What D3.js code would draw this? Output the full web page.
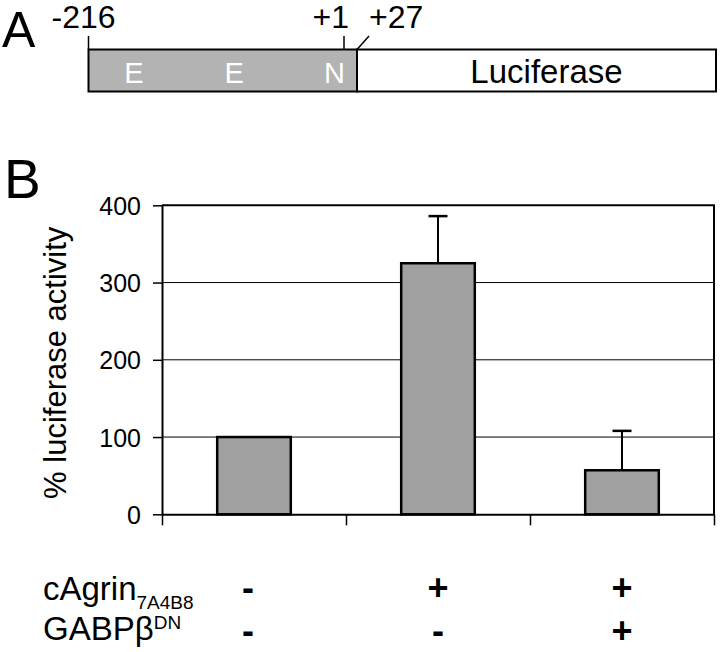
<!DOCTYPE html>
<html>
<head>
<meta charset="utf-8">
<script src="https://cdn.jsdelivr.net/npm/d3@7"></script>
<style>
  body { margin: 0; background: #fff; }
  text { font-family: "Liberation Sans", Arial, sans-serif; fill: #000; }
</style>
</head>
<body>
<svg id="chart"></svg>
<script>
// panel A: promoter construct
const constructSites = [-216, 1, 27];
const siteLabels = ["-216", "+1", "+27"];
const elementLabels = ["E", "E", "N"];
const reporterLabel = "Luciferase";

// panel B: luciferase assay
const conditions = ["control", "agrin", "agrin+dn"];
const activity = [100, 325, 57];
const errorUp = [0, 61, 51];
const yTicks = [0, 100, 200, 300, 400];
const agrinSigns = ["-", "+", "+"];
const gabpSigns = ["-", "-", "+"];

const width = 720, height = 652;
const svg = d3.select("#chart").attr("width", width).attr("height", height);

// ---------- panel A ----------
const boxTop = 49.5, boxBottom = 91.5, boxRight = 716;
const siteX = d3.scaleLinear().domain(constructSites).range([88.5, 344, 357]);

let a = svg.append("g");

a.append("text")
    .attr("x", 2).attr("y", 47)
    .style("font-size", "50px")
    .text("A");

// promoter (grey) and reporter (white)
a.append("rect")
    .attr("x", siteX(-216)).attr("y", boxTop)
    .attr("width", siteX(27) - siteX(-216)).attr("height", boxBottom - boxTop)
    .attr("fill", "#b3b3b3").attr("stroke", "#000").attr("stroke-width", 2);
a.append("rect")
    .attr("x", siteX(27)).attr("y", boxTop)
    .attr("width", boxRight - siteX(27)).attr("height", boxBottom - boxTop)
    .attr("fill", "#fff").attr("stroke", "#000").attr("stroke-width", 2);

// site markers
a.append("line")
    .attr("x1", siteX(-216)).attr("x2", siteX(-216))
    .attr("y1", 36).attr("y2", boxTop)
    .attr("stroke", "#000").attr("stroke-width", 1.5);
a.append("line")
    .attr("x1", siteX(1)).attr("x2", siteX(1))
    .attr("y1", 36).attr("y2", boxTop)
    .attr("stroke", "#000").attr("stroke-width", 1.5);
a.append("line")
    .attr("x1", siteX(27)).attr("x2", siteX(27) + 12)
    .attr("y1", boxTop).attr("y2", 36)
    .attr("stroke", "#000").attr("stroke-width", 1.5);

a.append("text").attr("x", siteX(-216) - 37).attr("y", 28)
    .style("font-size", "32px").text(siteLabels[0]);
a.append("text").attr("x", siteX(1) + 5).attr("y", 28)
    .attr("text-anchor", "end")
    .style("font-size", "32px").text(siteLabels[1]);
a.append("text").attr("x", siteX(27) + 12).attr("y", 28)
    .style("font-size", "32px").text(siteLabels[2]);

// E / E / N boxes inside the promoter
let elemX = d3.scalePoint().domain(d3.range(elementLabels.length)).range([134, 334.5]);
a.selectAll(".elem")
    .data(elementLabels)
    .enter().append("text")
    .attr("class", "elem")
    .attr("x", (d, i) => elemX(i))
    .attr("y", 83)
    .attr("text-anchor", "middle")
    .style("font-size", "29px")
    .style("fill", "#fff")
    .text(d => d);

a.append("text")
    .attr("x", (siteX(27) + boxRight) / 2 + 10).attr("y", 83)
    .attr("text-anchor", "middle")
    .style("font-size", "33px")
    .text(reporterLabel);

// ---------- panel B ----------
const plotLeft = 162, plotRight = 714, plotTop = 205.3, plotBottom = 514.3;

let x = d3.scaleBand()
    .domain(conditions)
    .range([plotLeft, plotRight])
    .paddingInner(0.6)
    .paddingOuter(0.3);

let y = d3.scaleLinear()
    .domain([0, 400])
    .range([plotBottom, plotTop]);

let b = svg.append("g");

b.append("text")
    .attr("x", 4).attr("y", 198)
    .style("font-size", "55px")
    .text("B");

// gridlines
b.selectAll(".grid")
    .data(yTicks.filter(t => t > 0 && t < 400))
    .enter().append("line")
    .attr("class", "grid")
    .attr("x1", plotLeft).attr("x2", plotRight)
    .attr("y1", d => y(d)).attr("y2", d => y(d))
    .attr("stroke", "#000").attr("stroke-width", 1);

// frame (top + right)
b.append("path")
    .attr("d", `M${plotLeft},${y(400)}H${plotRight}V${y(0)}`)
    .attr("fill", "none").attr("stroke", "#000").attr("stroke-width", 2);

// bars
b.selectAll(".bar")
    .data(activity)
    .enter().append("rect")
    .attr("class", "bar")
    .attr("x", (d, i) => x(conditions[i]))
    .attr("width", x.bandwidth())
    .attr("y", d => y(d))
    .attr("height", d => y(0) - y(d))
    .attr("fill", "#a0a0a0")
    .attr("stroke", "#000")
    .attr("stroke-width", 2.5);

// error bars (upper only)
let capW = 19;
activity.forEach((v, i) => {
    if (!errorUp[i]) return;
    let cx = x(conditions[i]) + x.bandwidth() / 2;
    b.append("line")
        .attr("x1", cx).attr("x2", cx)
        .attr("y1", y(v)).attr("y2", y(v + errorUp[i]))
        .attr("stroke", "#000").attr("stroke-width", 2);
    b.append("line")
        .attr("x1", cx - capW / 2).attr("x2", cx + capW / 2)
        .attr("y1", y(v + errorUp[i])).attr("y2", y(v + errorUp[i]))
        .attr("stroke", "#000").attr("stroke-width", 2.5);
});

// y axis
let yAxis = b.append("g")
    .attr("transform", `translate(${plotLeft},0)`)
    .call(d3.axisLeft(y).tickValues(yTicks).tickSize(9).tickSizeOuter(0).tickPadding(12));
yAxis.select(".domain").attr("stroke-width", 2);
yAxis.selectAll(".tick line").attr("stroke-width", 1.5);
yAxis.selectAll(".tick text")
    .style("font-size", "25px")
    .style("font-family", "'Liberation Sans', Arial, sans-serif")
    .attr("dy", "0.36em");

// x axis: ticks between categories
let edge = d3.scaleLinear().domain([0, conditions.length]).range([plotLeft, plotRight]);
let xAxis = b.append("g")
    .attr("transform", `translate(0,${plotBottom})`)
    .call(d3.axisBottom(edge).tickValues(d3.range(conditions.length + 1))
        .tickSize(11).tickSizeOuter(0).tickFormat(""));
xAxis.select(".domain").attr("stroke-width", 2);
xAxis.selectAll(".tick line").attr("stroke-width", 1.5);

// y title
b.append("text")
    .attr("transform", `translate(66,${(plotTop + plotBottom) / 2 + 3}) rotate(-90)`)
    .attr("text-anchor", "middle")
    .style("font-size", "31px")
    .text("% luciferase activity");

// treatment table
let row1 = b.append("text").attr("x", 43).attr("y", 600).style("font-size", "33px");
row1.append("tspan").text("cAgrin");
row1.append("tspan").attr("dy", 9).style("font-size", "19px").text("7A4B8");

let row2 = b.append("text").attr("x", 43).attr("y", 640).style("font-size", "33px");
row2.append("tspan").text("GABPβ");
row2.append("tspan").attr("dy", -11).style("font-size", "19px").text("DN");

b.selectAll(".sign1")
    .data(agrinSigns)
    .enter().append("text")
    .attr("class", "sign1")
    .attr("x", (d, i) => x(conditions[i]) + x.bandwidth() / 2 - (i === 0 ? 6 : 0))
    .attr("y", 600)
    .attr("text-anchor", "middle")
    .style("font-size", "36px")
    .style("font-weight", "bold")
    .text(d => d);

b.selectAll(".sign2")
    .data(gabpSigns)
    .enter().append("text")
    .attr("class", "sign2")
    .attr("x", (d, i) => x(conditions[i]) + x.bandwidth() / 2 - (i === 0 ? 6 : 0))
    .attr("y", 643)
    .attr("text-anchor", "middle")
    .style("font-size", "36px")
    .style("font-weight", "bold")
    .text(d => d);
</script>
</body>
</html>
